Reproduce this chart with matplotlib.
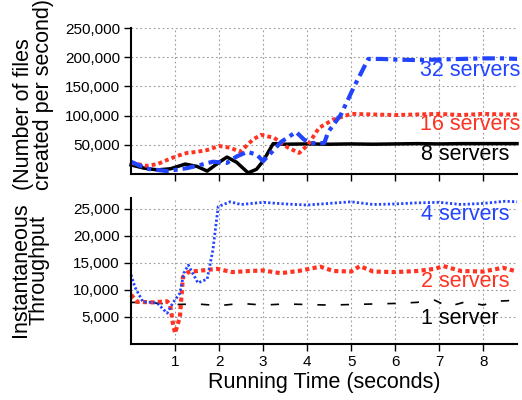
import matplotlib
matplotlib.use('Agg')
import matplotlib.pyplot as plt
from matplotlib.ticker import FuncFormatter

plt.rcParams['font.family'] = ['Liberation Sans', 'DejaVu Sans']

#---------------------------------------------------------------top panel data
t8 = [0, 0.3, 0.6, 0.9, 1.23, 1.5, 1.73, 2.0, 2.18, 2.4, 2.66, 2.85, 3.0, 3.23,
      3.5, 4.0, 4.5, 5.0, 5.5, 6.0, 6.5, 7.0, 7.5, 8.0, 8.5, 8.77]
v8 = [15500, 10000, 7000, 9000, 17000, 13000, 5000, 20000, 29000, 20000, 2000,
      8000, 22000, 52000, 51000, 51500, 51000, 51500, 51000, 51500, 52000,
      51500, 52000, 52000, 52000, 52000]

t16 = [0, 0.36, 0.6, 0.82, 1.05, 1.27, 1.5, 1.73, 2.0, 2.25, 2.48, 2.77, 2.95,
       3.25, 3.57, 3.82, 4.02, 4.27, 4.59, 5.0, 5.5, 6.0, 6.5, 7.0, 7.5, 8.0,
       8.5, 8.77]
v16 = [19000, 14000, 17000, 24000, 31000, 36000, 38000, 41000, 48000, 45000,
       38000, 59000, 67000, 62000, 45000, 36000, 50000, 79000, 93000, 103000,
       102000, 101000, 102000, 103000, 101000, 103000, 102000, 102000]

t32 = [0, 0.36, 0.82, 1.27, 1.55, 1.86, 2.18, 2.4, 2.64, 2.86, 3.0, 3.18, 3.41,
       3.75, 3.93, 4.09, 4.39, 4.48, 4.77, 5.07, 5.39, 5.7, 6.0, 6.5, 7.0, 7.5,
       8.0, 8.5, 8.77]
v32 = [21000, 9000, 5000, 10000, 15000, 21000, 19000, 30000, 38000, 33000,
       22000, 36000, 55000, 72000, 59000, 53000, 53000, 72000, 102000, 150000,
       197000, 197000, 196000, 195000, 196000, 197000, 198000, 198000, 197000]

#------------------------------------------------------------bottom panel data
t1 = [0, 0.5, 1.0, 1.5, 2.0, 2.5, 3.0, 3.5, 4.0, 4.5, 5.0, 5.5, 6.0, 6.5, 6.9,
      7.2, 7.6, 8.0, 8.3, 8.77]
v1 = [7700, 7600, 7300, 7400, 7100, 7500, 7200, 7400, 7300, 7200, 7300, 7400,
      7500, 7700, 8100, 6900, 7800, 7200, 7900, 8100]

t2 = [0, 0.14, 0.5, 0.82, 0.89, 0.95, 1.0, 1.11, 1.18, 1.3, 1.5, 1.95, 2.3,
      2.7, 3.0, 3.4, 3.8, 4.3, 4.6, 5.0, 5.2, 5.5, 6.0, 6.5, 6.9, 7.1, 7.5,
      8.0, 8.45, 8.77]
v2 = [9100, 7800, 7700, 7900, 7200, 3900, 2000, 5000, 12400, 13300, 13500,
      13900, 13300, 13500, 13600, 13100, 13500, 14300, 13500, 13400, 14400,
      13400, 13300, 13500, 13900, 14400, 13500, 13400, 14100, 13400]

t4 = [0, 0.09, 0.27, 0.59, 0.82, 0.95, 1.11, 1.2, 1.3, 1.52, 1.73, 1.86, 1.98,
      2.25, 2.5, 3.0, 3.5, 4.0, 4.5, 5.0, 5.5, 6.0, 6.5, 7.0, 7.5, 8.0, 8.5,
      8.77]
v4 = [12800, 10500, 7800, 7600, 5700, 7600, 9400, 13100, 14600, 11300, 12000,
      17400, 25400, 26300, 25800, 26200, 25900, 25700, 26000, 26300, 25800,
      25900, 26100, 26200, 25800, 26000, 26400, 26300]

xticks = [1, 2, 3, 4, 5, 6, 7, 8]
top_yticks = [50000, 100000, 150000, 200000, 250000]
bot_yticks = [5000, 10000, 15000, 20000, 25000]

blue = '#2244ff'
red = '#ff3322'

fig = plt.figure(figsize=(5.22, 4.0), dpi=100)
ax1 = fig.add_axes([0.251, 0.565, 0.7395, 0.365])
ax2 = fig.add_axes([0.251, 0.14, 0.7395, 0.365])

comma = FuncFormatter(lambda v, p: '{:,.0f}'.format(v))

for ax in (ax1, ax2):
    ax.set_xlim(0, 8.77)
    ax.set_xticks(xticks)
    ax.spines['top'].set_visible(False)
    ax.spines['right'].set_visible(False)
    ax.spines['left'].set_linewidth(1.5)
    ax.spines['bottom'].set_linewidth(1.5)
    ax.tick_params(direction='out', length=5, width=1, labelsize=11, pad=3)
    ax.grid(True, color='#999999', linestyle=(0, (1.5, 2.5)), linewidth=0.8)
    ax.set_axisbelow(True)
    ax.yaxis.set_major_formatter(comma)

#-----------------------------------------------------------------------top
ax1.set_ylim(0, 250000)
ax1.set_yticks(top_yticks)
ax1.tick_params(axis='x', labelbottom=False)
ax1.plot(t8, v8, color='black', lw=2.5, clip_on=False)
ax1.plot(t16, v16, color=red, lw=2.8, linestyle=(0, (1, 0.8)), clip_on=False)
ax1.plot(t32, v32, color=blue, lw=3, linestyle=(0, (3, 1.2, 1, 1.2)), clip_on=False)
ax1.text(8.84, 178000, '32 servers', color=blue, fontsize=15.5, ha='right', va='center')
ax1.text(8.84, 84500, '16 servers', color=red, fontsize=15.5, ha='right', va='center')
ax1.text(8.59, 32800, '8 servers', color='black', fontsize=15.5, ha='right', va='center')

#--------------------------------------------------------------------bottom
ax2.set_ylim(0, 27000)
ax2.set_yticks(bot_yticks)
ax2.plot(t1, v1, color='black', lw=1.2, linestyle=(0, (5, 9)), clip_on=False)
ax2.plot(t2, v2, color=red, lw=3, linestyle=(0, (1, 0.8)), clip_on=False)
ax2.plot(t4, v4, color=blue, lw=2, linestyle=(0, (0.8, 0.8)), clip_on=False)
ax2.text(8.59, 23900, '4 servers', color=blue, fontsize=15.5, ha='right', va='center')
ax2.text(8.59, 11500, '2 servers', color=red, fontsize=15.5, ha='right', va='center')
ax2.text(8.36, 4800, '1 server', color='black', fontsize=15.5, ha='right', va='center')
ax2.set_xlabel('Running Time (seconds)', fontsize=15.5, labelpad=2)

fig.text(0.064, 0.525, '(Number of files\ncreated per second)', rotation=90,
         fontsize=15.5, ha='center', va='bottom', multialignment='left',
         linespacing=0.9)
fig.text(0.057, 0.325, 'Instantaneous\nThroughput', rotation=90,
         fontsize=15.5, ha='center', va='center', multialignment='center',
         linespacing=0.86)

fig.savefig('out.png', dpi=100)
